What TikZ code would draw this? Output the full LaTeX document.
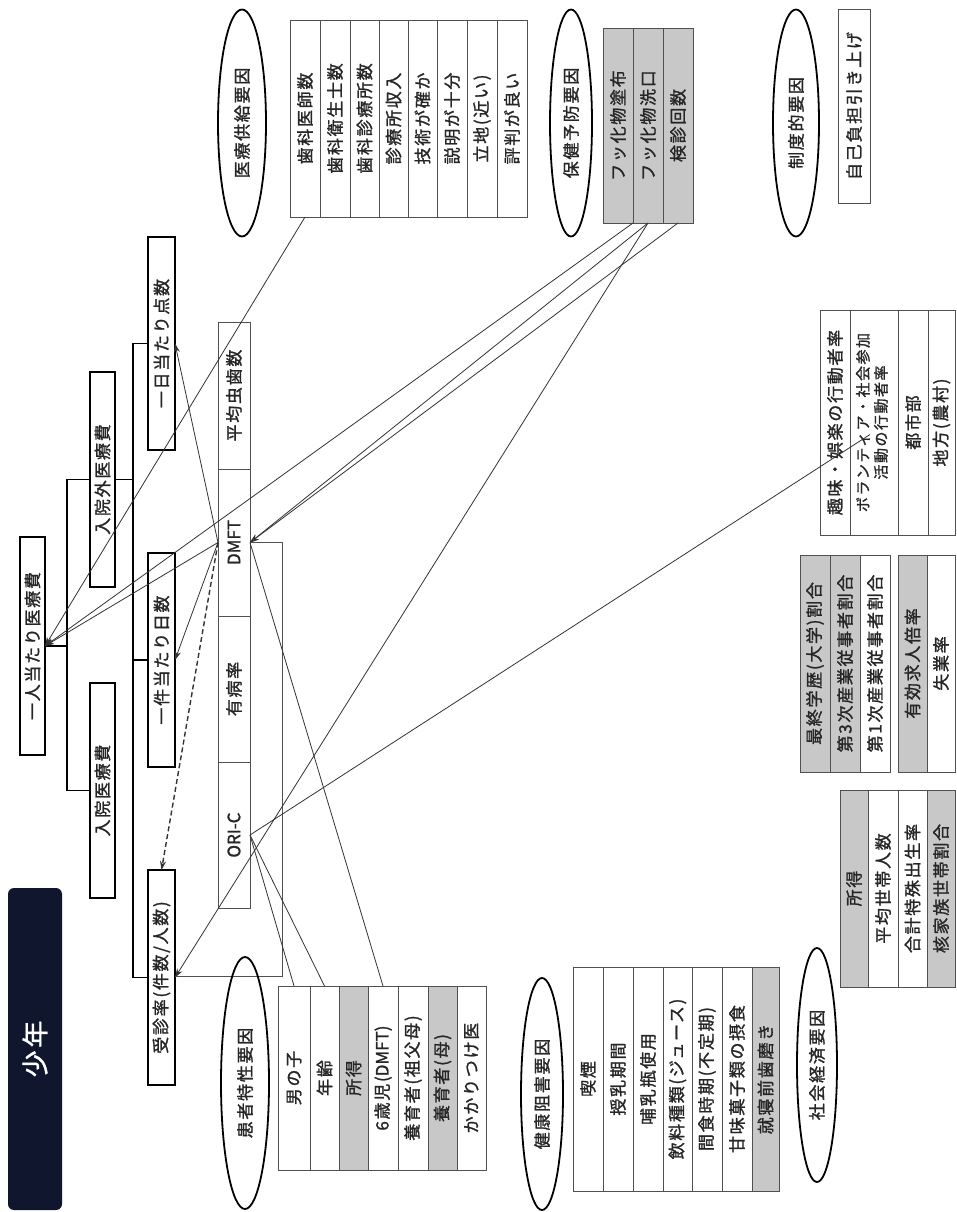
\documentclass[tikz,border=0pt]{standalone}
\usepackage{fontspec}
\newfontfamily\jp{Noto Sans CJK JP}[LetterSpace=10, FakeBold=1.3]
\newfontfamily\jpn{Noto Sans CJK JP}[FakeBold=1.3]
\usetikzlibrary{shapes.geometric,arrows.meta,calc}
\definecolor{cellgray}{RGB}{200,200,200}
\definecolor{navy}{RGB}{16,22,45}
\definecolor{linegray}{RGB}{80,80,80}
\newcommand{\cellnode}[7]{\node[#1, minimum width={(#5-#3)*1pt}, minimum height={(#6-#4)*1pt}] (#2) at ({(#3+#5)/2},{(#4+#6)/2}) {\rotatebox{90}{#7}};}
\tikzset{
 every node/.style={font=\jp\fontsize{17}{19}\selectfont, inner sep=0pt, outer sep=0pt, text=black!85},
 thickbox/.style={draw=black, line width=1.8pt, fill=white},
 cell/.style={draw=linegray, line width=0.9pt, fill=white},
 graycell/.style={cell, fill=cellgray},
 oval/.style={ellipse, draw=black, line width=1.8pt},
 link/.style={draw=black!80, line width=0.8pt},
 arr/.style={link, -{Stealth[length=9pt,width=6pt]}},
 tree/.style={draw=black, line width=1.6pt},
}
\begin{document}
\begin{tikzpicture}[x=1pt,y=-1pt]
\useasboundingbox (0,0) rectangle (957,1212);
\fill[white] (0,0) rectangle (957,1212);
% title
\node[fill=navy, rounded corners=6pt, minimum width=54pt, minimum height=322pt] (title) at (35,1049) {\rotatebox{90}{\color{white}\fontsize{27}{30}\selectfont 少年}};
% frame behind DMFT column
\draw[draw=linegray, line width=0.9pt] (250,542) -- (282,542) -- (282,976) -- (175,976);
% hierarchy boxes
\cellnode{thickbox}{total}{20}{537}{45}{755}{一人当たり医療費}
\cellnode{thickbox}{gai}{90}{372}{115}{587}{入院外医療費}
\cellnode{thickbox}{nyu}{90}{683}{115}{898}{入院医療費}
\cellnode{thickbox}{perday}{148}{237}{175}{450}{一日当たり点数}
\cellnode{thickbox}{percase}{148}{553}{175}{767}{一件当たり日数}
\cellnode{thickbox}{visit}{148}{870}{175}{1085}{受診率(件数/人数)}
\coordinate (b1) at (67,646);
\draw[tree] (total.east) -- (b1);
\draw[tree] (gai.west) -| (b1);
\draw[tree] (nyu.west) -| (b1);
\coordinate (b2) at (133,479.5);
\draw[tree] (gai.east) -- (b2);
\draw[tree] (perday.west) -| (b2);
\draw[tree] (percase.west) -| (b2);
\draw[tree] (visit.west) -| (b2);
% DMFT column
\cellnode{cell}{avg}{218}{322}{250}{469}{平均虫歯数}
\cellnode{cell}{dmft}{218}{469}{250}{616}{\jpn DMFT}
\cellnode{cell}{prev}{218}{616}{250}{762}{有病率}
\cellnode{cell}{oric}{218}{762}{250}{908}{\jpn ORI-C}
% ellipses
\node[oval, minimum width=48pt, minimum height=227pt] (e1) at (242,123) {\rotatebox{90}{医療供給要因}};
\node[oval, minimum width=42pt, minimum height=227pt] (e2) at (571,123) {\rotatebox{90}{保健予防要因}};
\node[oval, minimum width=46pt, minimum height=227pt] (e3) at (796,123) {\rotatebox{90}{制度的要因}};
\node[oval, minimum width=48pt, minimum height=252pt] (e4) at (245,1083) {\rotatebox{90}{患者特性要因}};
\node[oval, minimum width=42pt, minimum height=232pt] (e5) at (542,1094) {\rotatebox{90}{健康阻害要因}};
\node[oval, minimum width=40pt, minimum height=234pt] (e6) at (817,1065) {\rotatebox{90}{社会経済要因}};
% supply table
\cellnode{cell}{sup1}{290}{20}{320}{217}{歯科医師数}
\cellnode{cell}{sup2}{320}{20}{350}{217}{歯科衛生士数}
\cellnode{cell}{sup3}{350}{20}{379}{217}{歯科診療所数}
\cellnode{cell}{sup4}{379}{20}{408}{217}{診療所収入}
\cellnode{cell}{sup5}{408}{20}{437}{217}{技術が確か}
\cellnode{cell}{sup6}{437}{20}{467}{217}{説明が十分}
\cellnode{cell}{sup7}{467}{20}{497}{217}{立地(近い)}
\cellnode{cell}{sup8}{497}{20}{527}{217}{評判が良い}
% prevention table
\cellnode{graycell}{pv1}{603}{28}{633}{223}{フッ化物塗布}
\cellnode{graycell}{pv2}{633}{28}{663}{223}{フッ化物洗口}
\cellnode{graycell}{pv3}{663}{28}{693}{223}{検診回数}
% institutional
\cellnode{cell}{inst}{838}{9}{870}{203}{自己負担引き上げ}
% patient table
\cellnode{cell}{pt1}{278}{986}{310}{1170}{男の子}
\cellnode{cell}{pt2}{310}{986}{339}{1170}{年齢}
\cellnode{graycell}{pt3}{339}{986}{368}{1170}{所得}
\cellnode{cell}{pt4}{368}{986}{398}{1170}{6歳児({\jpn DMFT})}
\cellnode{cell}{pt5}{398}{986}{428}{1170}{養育者(祖父母)}
\cellnode{graycell}{pt6}{428}{986}{457}{1170}{養育者(母)}
\cellnode{cell}{pt7}{457}{986}{486}{1170}{かかりつけ医}
% health table
\cellnode{cell}{hr1}{573}{967}{603}{1191}{喫煙}
\cellnode{cell}{hr2}{603}{967}{633}{1191}{授乳期間}
\cellnode{cell}{hr3}{633}{967}{663}{1191}{哺乳瓶使用}
\cellnode{cell}{hr4}{663}{967}{692}{1191}{飲料種類(ジュース)}
\cellnode{cell}{hr5}{692}{967}{722}{1191}{間食時期(不定期)}
\cellnode{cell}{hr6}{722}{967}{752}{1191}{甘味菓子類の摂食}
\cellnode{graycell}{hr7}{752}{967}{779}{1191}{就寝前歯磨き}
% socio table
\cellnode{graycell}{so1}{840}{790}{868}{987}{所得}
\cellnode{cell}{so2}{868}{790}{898}{987}{平均世帯人数}
\cellnode{cell}{so3}{898}{790}{927}{987}{合計特殊出生率}
\cellnode{graycell}{so4}{927}{790}{955}{987}{核家族世帯割合}
% education table
\cellnode{graycell}{ed1}{800}{555}{830}{772}{最終学歴(大学)割合}
\cellnode{graycell}{ed2}{830}{555}{860}{772}{第3次産業従事者割合}
\cellnode{cell}{ed3}{860}{555}{890}{772}{第1次産業従事者割合}
% employment table
\cellnode{graycell}{em1}{898}{555}{927}{772}{有効求人倍率}
\cellnode{cell}{em2}{927}{555}{955}{772}{失業率}
% hobby table
\cellnode{cell}{hb1}{820}{310}{850}{535}{趣味・娯楽の行動者率}
\cellnode{cell}{hb2}{850}{310}{898}{535}{\fontsize{15}{18}\selectfont\begin{tabular}{@{}c@{}}ボランティア・社会参加\\活動の行動者率\end{tabular}}
\cellnode{cell}{hb3}{898}{310}{928}{535}{都市部}
\cellnode{cell}{hb4}{928}{310}{955}{535}{地方(農村)}
% connectors
\draw[arr] (sup1.south) -- (total.east);
\draw[arr] (pv1.south east) -- (total.east);
\draw[arr] (dmft.west) -- (total.east);
\draw[arr] (dmft.west) -- (perday.east);
\draw[arr] (dmft.west) -- (percase.east);
\draw[arr, line width=1.4pt, dash pattern=on 5pt off 3pt] (dmft.west) -- (visit.north);
\draw[arr] (pv2.south) -- (dmft.east);
\draw[arr] (pv3.south) -- (dmft.east);
\draw[arr] (pv2.south) -- (visit.east);
\draw[link] (dmft.east) -- (pt4.north);
\draw[link] (oric.east) -- (pt1.north);
\draw[link] (oric.east) -- (pt2.north);
\draw[link] (oric.east) -- ($(hb2.center)+(-4,12)$);
\end{tikzpicture}
\end{document}
